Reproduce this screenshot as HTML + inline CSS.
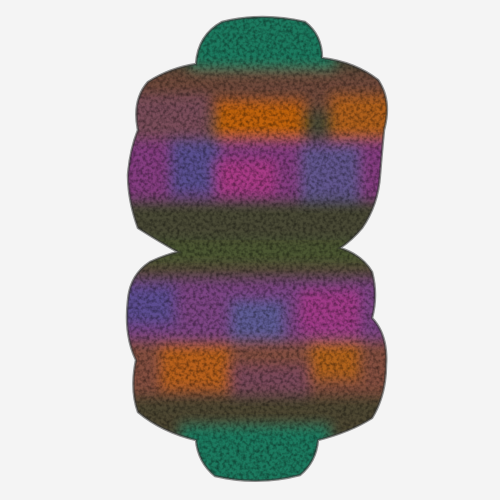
<!DOCTYPE html>
<html><head><meta charset="utf-8"><style>
html,body{margin:0;padding:0;background:#f4f4f4;}
svg{display:block}
</style></head><body>
<svg width="500" height="500" viewBox="0 0 500 500">
<defs>
<filter id="b" x="-20%" y="-20%" width="140%" height="140%"><feGaussianBlur stdDeviation="6"/></filter>
<filter id="tex"><feTurbulence type="fractalNoise" baseFrequency="0.3" numOctaves="2" seed="3"/><feColorMatrix type="matrix" values="0 0 0 0 0  0 0 0 0 0  0 0 0 0 0  0 0 0 1.3 -0.5"/></filter>
<clipPath id="body">
<path id="shape" d="M222 22 Q262 12 305 22 Q322 35 322 58 Q355 62 378 80 Q392 100 384 130 Q382 150 380 175 Q378 205 362 228 Q352 240 340 248 Q362 255 372 272 Q378 295 372 318 Q388 335 386 365 Q386 395 372 418 Q350 432 318 440 Q316 462 300 475 Q258 486 215 476 Q198 462 196 440 Q162 432 138 412 Q130 390 136 360 Q124 335 128 300 Q130 275 150 262 Q165 255 178 252 Q160 242 138 228 Q128 200 128 175 Q130 150 138 130 Q132 100 148 82 Q170 68 196 64 Q198 35 222 22 Z"/>
</clipPath>
</defs>
<rect width="500" height="500" fill="#f4f4f4"/>
<g clip-path="url(#body)">
<rect x="100" y="0" width="300" height="500" fill="#4a4a38"/>
<g filter="url(#b)">
<rect x="190" y="0" width="145" height="80" fill="#1f7a5e"/>
<rect x="110" y="70" width="290" height="40" fill="#6e4a3a"/>
<rect x="110" y="95" width="100" height="45" fill="#7a4e5a"/>
<rect x="215" y="100" width="90" height="50" fill="#c0620e"/>
<rect x="330" y="95" width="70" height="50" fill="#b0601c"/>
<rect x="110" y="140" width="290" height="65" fill="#843e80"/>
<rect x="170" y="140" width="50" height="55" fill="#5a5090"/>
<rect x="215" y="160" width="60" height="35" fill="#a83b86"/>
<rect x="300" y="145" width="60" height="55" fill="#62568e"/>
<rect x="110" y="200" width="290" height="45" fill="#4a4834"/>
<rect x="110" y="240" width="290" height="25" fill="#4c5630"/>
<rect x="110" y="265" width="290" height="20" fill="#5a4a3c"/>
<rect x="110" y="280" width="290" height="60" fill="#7c4484"/>
<rect x="110" y="285" width="65" height="40" fill="#5d4e92"/>
<rect x="230" y="300" width="55" height="45" fill="#5e5c96"/>
<rect x="300" y="290" width="60" height="45" fill="#a03a88"/>
<rect x="110" y="340" width="290" height="60" fill="#845040"/>
<rect x="160" y="345" width="70" height="45" fill="#b8601a"/>
<rect x="310" y="340" width="50" height="40" fill="#b0621e"/>
<rect x="230" y="365" width="80" height="35" fill="#7a4a5a"/>
<rect x="110" y="395" width="290" height="40" fill="#4e4632"/>
<rect x="180" y="425" width="150" height="70" fill="#1f7a5e"/>
</g>
<rect x="100" y="0" width="300" height="500" filter="url(#tex)" opacity="0.7"/>
</g>
<use href="#shape" fill="none" stroke="#333" stroke-width="2.5" opacity="0.55"/>
</svg>
</body></html>
